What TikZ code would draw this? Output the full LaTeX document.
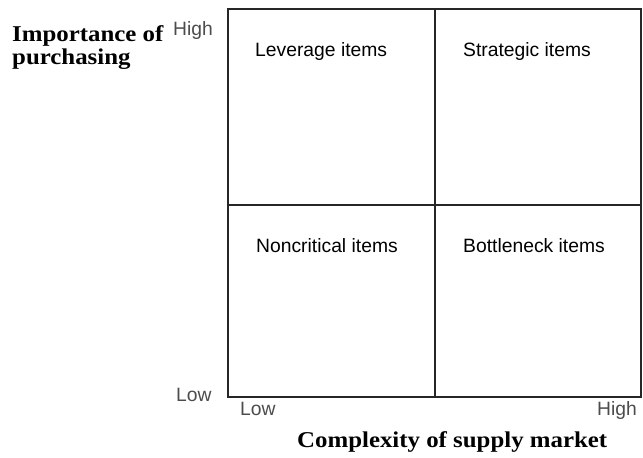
\documentclass[tikz,border=0pt]{standalone}
\usepackage{fontspec}
\setmainfont{Liberation Serif}
\newfontfamily\labsans{Liberation Sans}
\newfontfamily\axserif[FakeStretch=1.1]{Liberation Serif}
\begin{document}
\begin{tikzpicture}[x=1pt,y=-1pt,
  cell/.style={font=\labsans\fontsize{19.3}{22}\selectfont, inner sep=0pt, anchor=base west},
  tick/.style={font=\labsans\fontsize{19.3}{22}\selectfont, text=black!70, inner sep=0pt},
  axtitle/.style={font=\axserif\bfseries\fontsize{22.6}{24}\selectfont, inner sep=0pt, anchor=base west},
  grid/.style={draw=black!85, line width=1.2pt}]
\useasboundingbox (0,0) rectangle (643,458);
% grid
\draw[grid] (228,9) rectangle (641,397);
\coordinate (vt) at (435,9);
\coordinate (vb) at (435,397);
\coordinate (hl) at (228,205);
\coordinate (hr) at (641,205);
\draw[grid] (vt) -- (vb);
\draw[grid] (hl) -- (hr);
% quadrant labels
\node[cell] (lev) at (255,56) {Leverage items};
\node[cell] (str) at (463,56) {Strategic items};
\node[cell] (non) at (256,252) {Noncritical items};
\node[cell] (bot) at (463,252) {Bottleneck items};
% ticks
\node[tick, anchor=base west] (yhigh) at (173,35) {High};
\node[tick, anchor=base west] (ylow) at (176,401) {Low};
\node[tick, anchor=base west] (xlow) at (240,415) {Low};
\node[tick, anchor=base east] (xhigh) at (637,415) {High};
% axis titles
\node[axtitle] (imp1) at (12,41) {Importance of};
\node[axtitle] (imp2) at (12,64) {purchasing};
\node[axtitle] (cx) at (297,447) {Complexity of supply market};
\end{tikzpicture}
\end{document}
